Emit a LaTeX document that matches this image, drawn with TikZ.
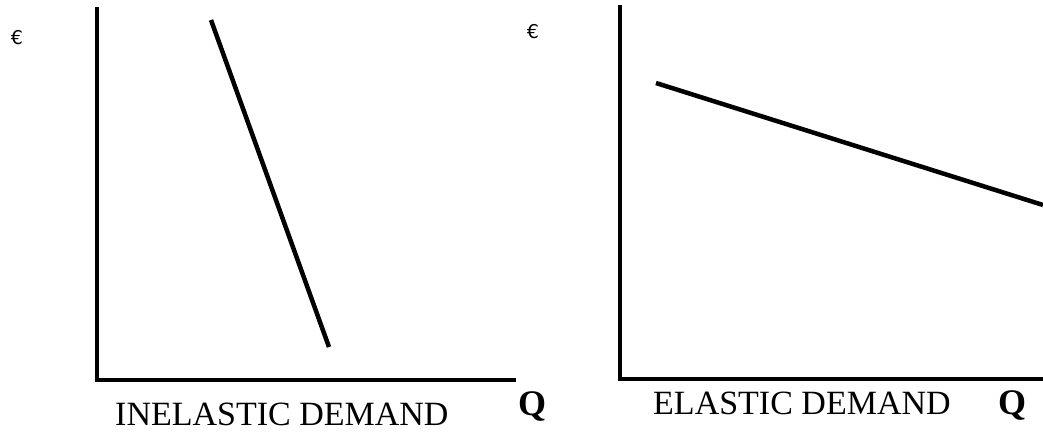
\documentclass[tikz,border=0pt]{standalone}
\usepackage{fontspec}
\setmainfont{Liberation Serif}
\newfontfamily\eurofont{DejaVu Sans}
\begin{document}
\begin{tikzpicture}[x=1pt,y=-1pt,
  axis/.style={line width=4.5pt,line cap=butt,line join=miter},
  curve/.style={line width=4.5pt},
  lbl/.style={anchor=base west,inner sep=0pt,font=\fontsize{34}{40}\selectfont},
  qlbl/.style={anchor=base west,inner sep=0pt,font=\fontsize{36}{42}\selectfont\bfseries},
  eur/.style={inner sep=0pt,font=\eurofont\fontsize{19}{22}\selectfont}]
\useasboundingbox (0,0) rectangle (1043,432);
% left graph
\coordinate (LT) at (97,7);
\coordinate (LO) at (97,380);
\coordinate (LR) at (516,380);
\draw[axis] (LT) -- (LO) -- (LR);
\coordinate (IA) at (211,20);
\coordinate (IB) at (329,347);
\draw[curve] (IA) -- (IB);
\node[eur] (e1) at (17,38) {€};
\node[lbl] (t1) at (115,425) {INELASTIC DEMAND};
\node[qlbl] (q1) at (518,415) {Q};
% right graph
\coordinate (RT) at (620,5);
\coordinate (RO) at (620,379);
\coordinate (RR) at (1043,379);
\draw[axis] (RT) -- (RO) -- (RR);
\coordinate (EA) at (656,83);
\coordinate (EB) at (1043,205);
\draw[curve] (EA) -- (EB);
\node[eur] (e2) at (533,32) {€};
\node[lbl] (t2) at (653,414) {ELASTIC DEMAND};
\node[qlbl] (q2) at (998,414) {Q};
\end{tikzpicture}
\end{document}
